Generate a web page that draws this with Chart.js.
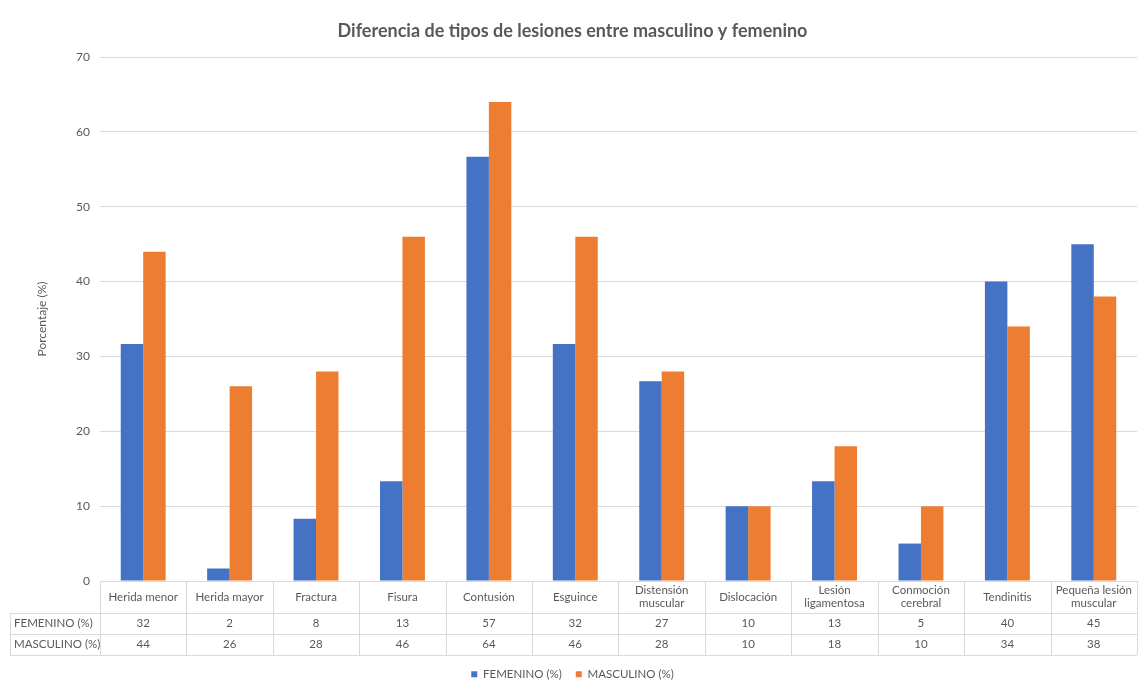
<!DOCTYPE html>
<html>
<head>
<meta charset="utf-8">
<title>Diferencia de tipos de lesiones entre masculino y femenino</title>
<script src="https://cdn.jsdelivr.net/npm/chart.js@4/dist/chart.umd.min.js"></script>
<style>
  html, body { margin: 0; padding: 0; background: #ffffff; }
  #wrap { width: 1145px; height: 681px; position: relative; }
</style>
</head>
<body>
<div id="wrap"><canvas id="chart"></canvas></div>
<script>
// Injury categories (multi-line labels for the data table header)
const categories = [
  ['Herida menor'], ['Herida mayor'], ['Fractura'], ['Fisura'], ['Contusión'],
  ['Esguince'], ['Distensión', 'muscular'], ['Dislocación'], ['Lesión', 'ligamentosa'],
  ['Conmoción', 'cerebral'], ['Tendinitis'], ['Pequeña lesión', 'muscular']
];
// Percentage of players per injury type
const femenino  = [31.67, 1.67, 8.33, 13.33, 56.67, 31.67, 26.67, 10, 13.33, 5, 40, 45];
const masculino = [44, 26, 28, 46, 64, 46, 28, 10, 18, 10, 34, 38];
const seriesNames = ['FEMENINO (%)', 'MASCULINO (%)'];
const yMin = 0, yMax = 70, yStep = 10;

const FONT = 'Lato, "Open Sans", sans-serif';
const TEXT = '#595959';
const LINE = '#d9d9d9';

// Data table drawn under the plot area, aligned with the category scale
const dataTable = {
  id: 'dataTable',
  afterDraw(chart) {
    const { ctx, chartArea, scales } = chart;
    const x = scales.x;
    const n = categories.length;
    const catW = chartArea.width / n;
    const top = chartArea.bottom;
    const rowH = [32, 21, 21];
    const y1 = top + rowH[0], y2 = y1 + rowH[1], y3 = y2 + rowH[2];
    const tableLeft = 10;
    const right = chartArea.right;
    const rows = [femenino, masculino];

    ctx.save();
    ctx.strokeStyle = LINE;
    ctx.lineWidth = 1;
    ctx.beginPath();
    const hl = (xa, xb, y) => { ctx.moveTo(xa, Math.round(y) + 0.5); ctx.lineTo(xb, Math.round(y) + 0.5); };
    const vl = (xx, ya, yb) => { ctx.moveTo(Math.round(xx) + 0.5, ya); ctx.lineTo(Math.round(xx) + 0.5, yb); };
    hl(chartArea.left, right, top);
    hl(tableLeft, right, y1);
    hl(tableLeft, right, y2);
    hl(tableLeft, right, y3);
    vl(tableLeft, y1, y3);
    for (let i = 0; i <= n; i++) {
      const xx = i < n ? x.getPixelForValue(i) - catW / 2 : right;
      vl(xx, top, y3);
    }
    ctx.stroke();

    ctx.fillStyle = TEXT;
    ctx.font = '11.5px ' + FONT;
    ctx.textAlign = 'center';
    ctx.textBaseline = 'middle';
    categories.forEach((lines, i) => {
      const cx = x.getPixelForValue(i);
      const lh = 13;
      const startY = top + rowH[0] / 2 - (lines.length - 1) * lh / 2;
      lines.forEach((t, k) => ctx.fillText(t, cx, startY + k * lh));
      ctx.fillText(String(Math.round(rows[0][i])), cx, y1 + rowH[1] / 2);
      ctx.fillText(String(Math.round(rows[1][i])), cx, y2 + rowH[2] / 2);
    });
    ctx.textAlign = 'left';
    ctx.fillText(seriesNames[0], tableLeft + 4, y1 + rowH[1] / 2);
    ctx.fillText(seriesNames[1], tableLeft + 4, y2 + rowH[2] / 2);
    ctx.restore();
  }
};

new Chart(document.getElementById('chart'), {
  type: 'bar',
  data: {
    labels: categories,
    datasets: [
      { label: seriesNames[0], data: femenino, backgroundColor: '#4472c4' },
      { label: seriesNames[1], data: masculino, backgroundColor: '#ed7d31' }
    ]
  },
  options: {
    responsive: true,
    maintainAspectRatio: false,
    animation: false,
    layout: { padding: { left: 8, right: 8, top: 0, bottom: -9 } },
    datasets: { bar: { categoryPercentage: 0.52, barPercentage: 1.0 } },
    plugins: {
      title: {
        display: true,
        text: 'Diferencia de tipos de lesiones entre masculino y femenino',
        color: TEXT,
        font: { family: FONT, size: 18, weight: 'bold' },
        padding: { top: 20, bottom: 15.4 }
      },
      legend: {
        position: 'bottom',
        labels: {
          color: TEXT,
          font: { family: FONT, size: 11.5 },
          boxWidth: 6, boxHeight: 6,
          padding: 14
        }
      },
      tooltip: { enabled: false }
    },
    scales: {
      x: {
        grid: { display: false },
        ticks: { display: false },
        border: { color: LINE },
        afterFit(s) { s.height = 73.5; }
      },
      y: {
        min: yMin, max: yMax,
        ticks: { stepSize: yStep, color: TEXT, font: { family: FONT, size: 12 }, padding: 10 },
        grid: { color: LINE, drawTicks: false },
        border: { display: false },
        title: {
          display: true, text: 'Porcentaje (%)', color: TEXT,
          font: { family: FONT, size: 12 },
          padding: { top: 27, bottom: 4 }
        },
        afterFit(s) { s.width = 92; }
      }
    }
  },
  plugins: [dataTable]
});
</script>
</body>
</html>
